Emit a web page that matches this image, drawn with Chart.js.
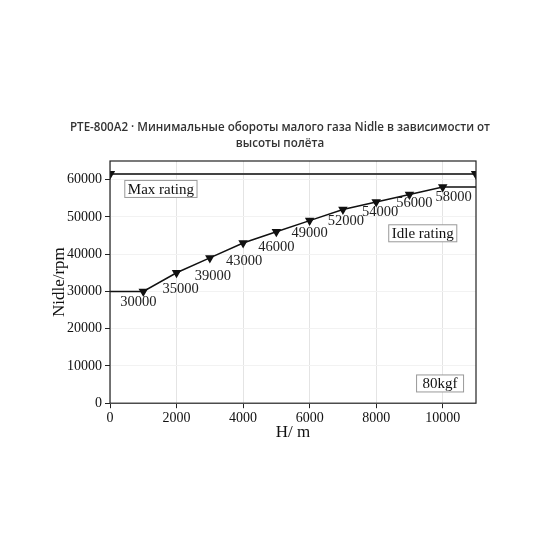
<!DOCTYPE html>
<html>
<head>
<meta charset="utf-8">
<script src="https://cdn.jsdelivr.net/npm/chart.js@4/dist/chart.umd.min.js"></script>
<style>
  html, body { margin: 0; padding: 0; background: #fff; }
  #wrap { width: 560px; height: 560px; }
</style>
</head>
<body>
<div id="wrap"><canvas id="grafico"></canvas></div>
<script>
// altitude (m) e rotação mínima de marcha lenta (rpm)
const altitudes = [0, 1000, 2000, 3000, 4000, 5000, 6000, 7000, 8000, 9000, 10000, 11000];
const idleRpm = [30000, 30000, 35000, 39000, 43000, 46000, 49000, 52000, 54000, 56000, 58000, 58000];
const maxAlt = [0, 11000];
const maxRpm = [61500, 61500];

const tituloLinhas = [
  "PTE-800A2 · Минимальные обороты малого газа Nidle в зависимости от",
  "высоты полёта"
];
const notas = [
  { texto: "Max rating", x: 1530, y: 57500 },
  { texto: "Idle rating", x: 9400, y: 45600 },
  { texto: "80kgf", x: 9920, y: 5300 }
];
// deslocamento (px) de cada rótulo em relação ao ponto
const desloc = [
  null, [-5, 11], [4, 16], [3, 18], [1, 18], [0, 15],
  [0, 13], [3, 12], [4, 10], [5, 9], [11, 10], null
];

const serif = "'Liberation Serif', 'DejaVu Serif', serif";

const pts = (xs, ys) => xs.map((x, i) => ({ x, y: ys[i] }));

// moldura, título e nomes dos eixos
const moldura = {
  id: "moldura",
  afterDraw(chart) {
    const { ctx, chartArea: a, width } = chart;
    ctx.save();
    ctx.strokeStyle = "#222";
    ctx.lineWidth = 1.2;
    ctx.strokeRect(a.left, a.top, a.right - a.left, a.bottom - a.top);

    ctx.fillStyle = "#333";
    ctx.font = "600 11.6px 'Open Sans', 'Noto Sans', sans-serif";
    ctx.textAlign = "center";
    ctx.textBaseline = "middle";
    ctx.fillText(tituloLinhas[0], width / 2, 128);
    ctx.fillText(tituloLinhas[1], width / 2, 144);

    ctx.fillStyle = "#111";
    ctx.font = "17px " + serif;
    ctx.fillText("H/ m", (a.left + a.right) / 2, a.bottom + 29);
    ctx.translate(a.left - 50, (a.top + a.bottom) / 2);
    ctx.rotate(-Math.PI / 2);
    ctx.fillText("Nidle/rpm", 0, 0);
    ctx.restore();
  }
};

// rótulos dos pontos e caixas de texto
const rotulos = {
  id: "rotulos",
  afterDatasetsDraw(chart) {
    const { ctx, scales } = chart;
    ctx.save();
    ctx.font = "14.5px " + serif;
    ctx.fillStyle = "#222";
    ctx.textAlign = "center";
    ctx.textBaseline = "middle";
    altitudes.forEach((h, i) => {
      if (!desloc[i]) return;
      const px = scales.x.getPixelForValue(h);
      const py = scales.y.getPixelForValue(idleRpm[i]);
      ctx.fillText(String(idleRpm[i]), px + desloc[i][0], py + desloc[i][1]);
    });

    ctx.font = "15px " + serif;
    notas.forEach((n) => {
      const px = scales.x.getPixelForValue(n.x);
      const py = scales.y.getPixelForValue(n.y);
      const w = ctx.measureText(n.texto).width + (n.texto.length < 6 ? 12 : 6);
      const h = 17;
      ctx.fillStyle = "#fff";
      ctx.fillRect(px - w / 2, py - h / 2, w, h);
      ctx.strokeStyle = "#999";
      ctx.lineWidth = 1;
      ctx.strokeRect(px - w / 2, py - h / 2, w, h);
      ctx.fillStyle = "#111";
      ctx.fillText(n.texto, px, py + 1);
    });
    ctx.restore();
  }
};

new Chart(document.getElementById("grafico"), {
  type: "line",
  data: {
    datasets: [
      {
        label: "Max rating",
        data: pts(maxAlt, maxRpm),
        borderColor: "#444",
        borderWidth: 2,
        pointStyle: "triangle",
        pointRotation: 180,
        pointRadius: 4,
        pointBackgroundColor: "#111",
        pointBorderColor: "#111"
      },
      {
        label: "Idle rating",
        data: pts(altitudes, idleRpm),
        borderColor: "#111",
        borderWidth: 1.5,
        pointStyle: "triangle",
        pointRotation: 180,
        pointRadius: (c) =>
          c.dataIndex === 0 || c.dataIndex === altitudes.length - 1 ? 0 : 4,
        pointBackgroundColor: "#111",
        pointBorderColor: "#111"
      }
    ]
  },
  options: {
    responsive: true,
    maintainAspectRatio: false,
    animation: false,
    layout: { padding: { top: 161, left: 64, right: 84, bottom: 131 } },
    plugins: {
      legend: { display: false },
      tooltip: { enabled: false },
      title: { display: false }
    },
    scales: {
      x: {
        type: "linear",
        min: 0,
        max: 11000,
        ticks: {
          stepSize: 1000,
          color: "#111",
          font: { family: serif, size: 14 },
          maxRotation: 0,
          padding: 2,
          callback: (v) => (v % 2000 === 0 ? v : "")
        },
        grid: {
          color: "#e4e4e4",
          tickColor: "#222",
          tickLength: 5
        },
        border: { display: false }
      },
      y: {
        min: 0,
        max: 65000,
        ticks: {
          stepSize: 5000,
          color: "#111",
          font: { family: serif, size: 14 },
          padding: 3,
          callback: (v) => (v % 10000 === 0 ? v : "")
        },
        grid: {
          color: (c) => (c.tick && c.tick.value % 10000 === 0 ? "#f2f2f2" : "rgba(0,0,0,0)"),
          tickColor: "#222",
          tickLength: 5
        },
        border: { display: false }
      }
    }
  },
  plugins: [moldura, rotulos]
});
</script>
</body>
</html>
